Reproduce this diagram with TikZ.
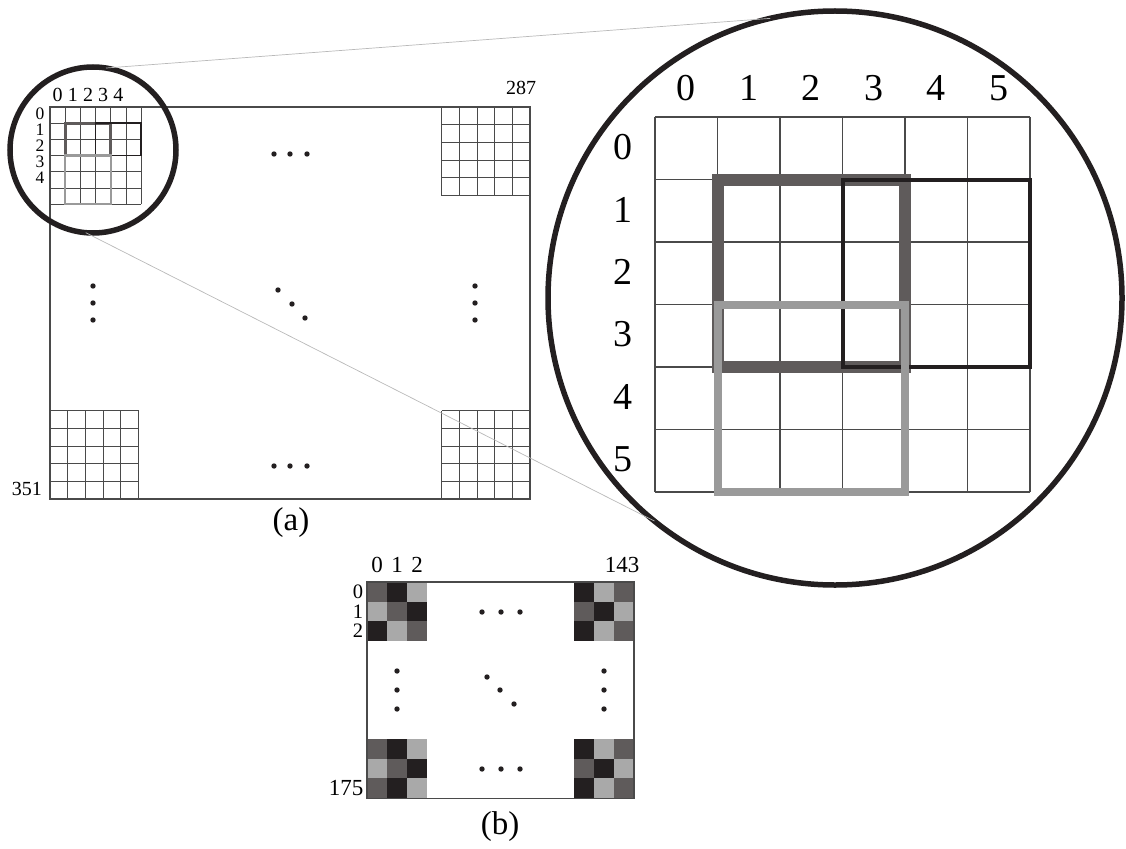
\documentclass[tikz,border=0pt]{standalone}
\usepackage{fontspec}
\setmainfont{Liberation Serif}
\usepackage{xcolor}
\usepackage{tikz}

\definecolor{zoomblack}{HTML}{231F20}
\definecolor{zoomdark}{HTML}{5F5B5B}
\definecolor{zoomlight}{HTML}{9A9A9A}
\definecolor{celllight}{HTML}{A9A9A9}
\definecolor{gridgray}{HTML}{4A4A4A}

\begin{document}
\begin{tikzpicture}[
		x=1pt, y=-1pt,
		ring/.style={draw=zoomblack, line width=5.5pt, circle, inner sep=0pt, outer sep=0pt},
		zoomline/.style={draw=gray!55, line width=0.7pt},
		cellgrid/.style={draw=gridgray, line width=0.8pt},
		bigcellgrid/.style={draw=gridgray, line width=1.2pt},
		frame/.style={draw=gridgray, line width=1.5pt},
		lbla/.style={inner sep=0pt, font=\fontsize{20}{22}\selectfont},
		lblrow/.style={inner sep=0pt, font=\fontsize{17.5}{18}\selectfont},
		lblb/.style={inner sep=0pt, font=\fontsize{23}{25}\selectfont},
		lblbrow/.style={inner sep=0pt, font=\fontsize{20.5}{21}\selectfont},
		lblbig/.style={inner sep=0pt, font=\fontsize{38}{40}\selectfont},
		capt/.style={inner sep=0pt, font=\fontsize{33}{35}\selectfont}
		]
		\useasboundingbox (0,0) rectangle (1126,848);
		
		% (a) the full matrix
		\draw[frame] (50,107) rectangle (530,499);
		\draw[cellgrid, xstep=15.2pt, ystep=16.2pt, shift={(50,107)}] (0,97.3) grid (91.3,0);
		\draw[cellgrid, step=17.7pt, shift={(441.5,107)}] (0,88.6) grid (88.6,0);
		\draw[cellgrid, step=17.7pt, shift={(50,410.5)}] (0,88.6) grid (88.6,0);
		\draw[cellgrid, step=17.7pt, shift={(441.5,410.5)}] (0,88.6) grid (88.6,0);
		\draw[zoomdark, line width=3pt] (65.2,123.2) rectangle (110.8,155.6);
		\draw[zoomblack, line width=1.5pt] (95.6,123.2) rectangle (141.2,155.6);
		\draw[zoomlight, line width=2.5pt] (65.2,155.6) rectangle (110.8,204.2);
		\foreach \dx/\dy in {274/154, 290/154, 307/154, 93/286, 93/303, 93/320,
			278/290, 292/304, 305/318, 475/286, 475/303, 475/320, 274/466, 290/466, 307/466}
			\fill[zoomblack] (\dx,\dy) circle (2.7);
		\foreach \n in {0,...,4}
			\node[lbla] (atop\n) at ({57.6+15.2*\n},95) {\n};
		\foreach \n in {0,...,4}
			\node[lblrow] (aside\n) at (40,{113.5+16*\n}) {\n};
		\node[lbla] (acolend) at (521,88) {287};
		\node[lbla] (arowend) at (27,489) {351};
		\node[capt] (capa) at (291,523) {(a)};
		
		% magnified window
		\draw[bigcellgrid, step=62.5pt, shift={(655,117)}] (0,375.1) grid (375.1,0);
		\draw[zoomdark, line width=12pt] (717.5,179.5) rectangle (905,367);
		\draw[zoomblack, line width=4pt] (842.5,179.5) rectangle (1030,367);
		\draw[zoomlight, line width=8pt] (717.5,304.5) rectangle (905,492);
		\foreach \n in {0,...,5}
			\node[lblbig] (ztop\n) at ({686.25+62.5*\n},88) {\n};
		\foreach \n in {0,...,5}
			\node[lblbig] (zside\n) at (623,{147+62.5*\n}) {\n};
		
		\node[ring, minimum size=166pt] (ringsmall) at (93,150) {};
		\node[ring, minimum size=574pt] (ringbig) at (835,298) {};
		\draw[zoomline] (ringsmall.81) -- (ringbig.103.5);
		\draw[zoomline] (ringsmall.265) -- (ringbig.231);
		
		% (b) the reduced matrix
		\foreach \c [count=\k from 0] in {zoomdark,zoomblack,celllight, celllight,zoomdark,zoomblack, zoomblack,celllight,zoomdark}
			\fill[\c] ({367+20*mod(\k,3)},{582+19.7*floor(\k/3)}) rectangle ++(20,19.7);
		\foreach \c [count=\k from 0] in {zoomblack,celllight,zoomdark, zoomdark,zoomblack,celllight, zoomblack,celllight,zoomdark}
			\fill[\c] ({574+20*mod(\k,3)},{582+19.7*floor(\k/3)}) rectangle ++(20,19.7);
		\foreach \c [count=\k from 0] in {zoomdark,zoomblack,celllight, celllight,zoomdark,zoomblack, zoomdark,zoomblack,celllight}
			\fill[\c] ({367+20*mod(\k,3)},{739+19.7*floor(\k/3)}) rectangle ++(20,19.7);
		\foreach \c [count=\k from 0] in {zoomblack,celllight,zoomdark, zoomdark,zoomblack,celllight, zoomblack,celllight,zoomdark}
			\fill[\c] ({574+20*mod(\k,3)},{739+19.7*floor(\k/3)}) rectangle ++(20,19.7);
		\draw[gridgray, line width=1.2pt] (367,582) rectangle (634,798.1);
		\foreach \dx/\dy in {482/612, 501/612, 520/612, 397/671, 397/690, 397/709,
			487/677, 500/690, 514/704, 604/671, 604/690, 604/709, 482/769, 501/769, 520/769}
			\fill[zoomblack] (\dx,\dy) circle (2.7);
		\foreach \n in {0,1,2}
			\node[lblb] (btop\n) at ({377+20*\n},565) {\n};
		\foreach \n in {0,1,2}
			\node[lblbrow] (bside\n) at (358,{592+19.3*\n}) {\n};
		\node[lblb] (bcolend) at (622,565) {143};
		\node[lblb] (browend) at (346,788) {175};
		\node[capt] (capb) at (500,827) {(b)};
	\end{tikzpicture}
\end{document}
